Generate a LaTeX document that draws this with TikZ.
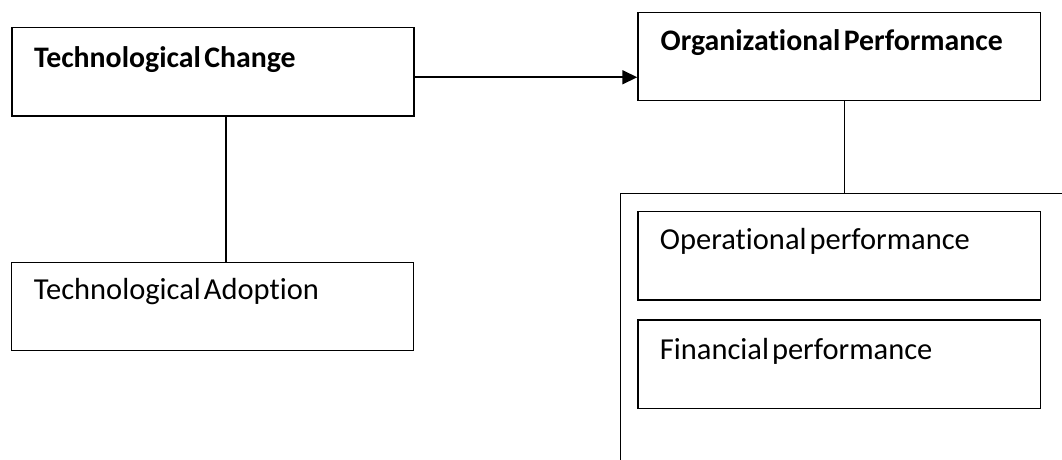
\documentclass[tikz,border=0pt]{standalone}
\usepackage{fontspec}
\setmainfont{Carlito}[Ligatures={NoCommon}]
\usetikzlibrary{arrows.meta}
\newcommand\mytightspace[1]{\spaceskip #1\relax}
\tikzset{
  box/.style={draw, line width=1.3pt, anchor=north west, inner ysep=0pt, align=left,
    font={\fontsize{30.5}{36}\selectfont}},
  boldbox/.style={box, font={\fontsize{29.8}{36}\selectfont\bfseries}},
  outerbox/.style={draw, line width=1pt, anchor=north west, minimum width=520pt, minimum height=320pt},
  link/.style={line width=1.1pt},
  arrowlink/.style={line width=1.6pt, -{Triangle[length=15pt,width=14pt]}}
}
\begin{document}
\begin{tikzpicture}[x=1pt,y=-1pt]
\useasboundingbox (0,0) rectangle (1062,459);
\clip (0,0) rectangle (1062,459);
\fill[white] (0,0) rectangle (1062,459);
% left column
\node[boldbox, line width=1.6pt, inner xsep=22.3pt, text width=357.5pt, text height=40pt, text depth=48.5pt]
  (TC) at (11,26.7) {\mytightspace{3.5pt}Technological Change};
\node[box, inner xsep=22.3pt, text width=357.5pt, text height=37.6pt, text depth=50.7pt]
  (TA) at (11,261.7) {\mytightspace{3pt}Technological Adoption};
% right column
\node[boldbox, inner xsep=22.7pt, text width=357.3pt, text height=38.3pt, text depth=50pt]
  (OP) at (637.3,11.7) {\mytightspace{3.5pt}Organizational Performance};
\node[outerbox] (outer) at (620.3,193.3) {};
\node[box, inner xsep=22pt, text width=358.7pt, text height=38pt, text depth=50.3pt]
  (OPS) at (637.3,211) {\mytightspace{3pt}Operational performance};
\node[box, inner xsep=22pt, text width=358.7pt, text height=39.7pt, text depth=48.5pt]
  (FIN) at (637.3,319.3) {\mytightspace{3pt}Financial performance};
% connectors
\draw[link, line width=1.6pt] ([xshift=13pt]TC.south) coordinate (c1) -- (c1 |- TA.north);
\draw[arrowlink] ([yshift=-5.5pt]TC.east) coordinate (c2) -- (c2 -| OP.west);
\draw[link] ([xshift=5.6pt]OP.south) coordinate (c3) -- (c3 |- outer.north);
\end{tikzpicture}
\end{document}
